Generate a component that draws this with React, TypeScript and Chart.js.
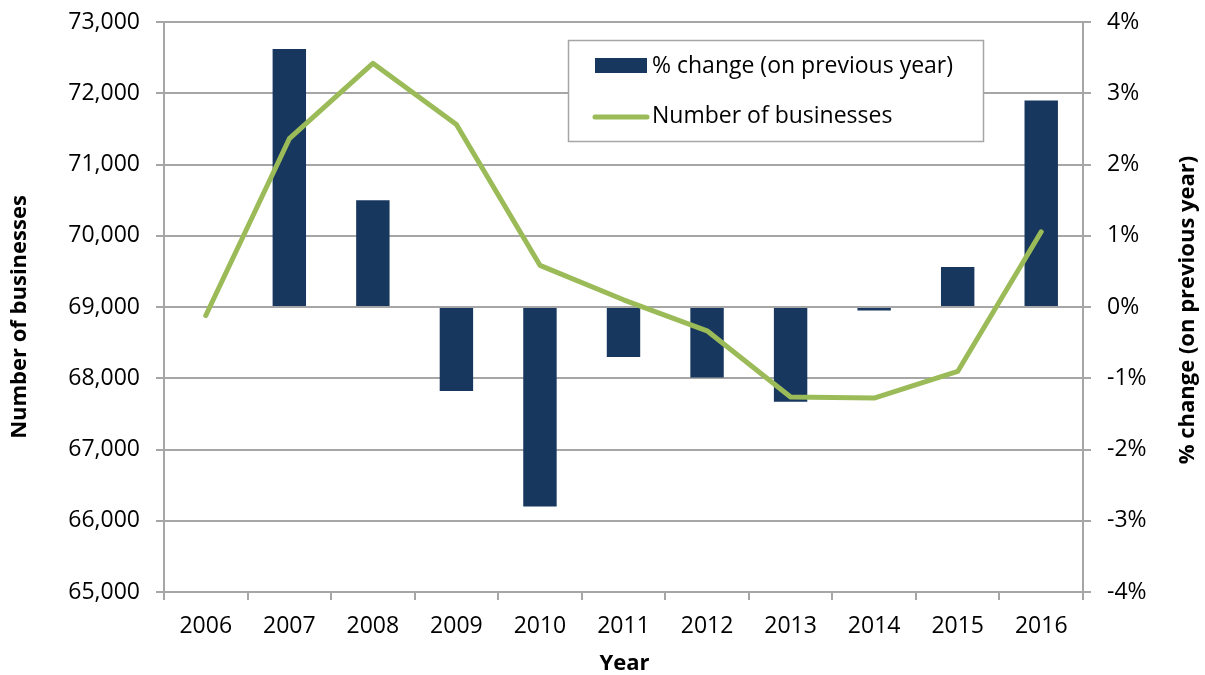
import { useEffect, useRef } from 'react';
import { Chart, registerables } from 'chart.js';

Chart.register(...registerables);

const years = ['2006', '2007', '2008', '2009', '2010', '2011', '2012', '2013', '2014', '2015', '2016'];
const businesses = [68880, 71362, 72420, 71562, 69585, 69101, 68666, 67738, 67722, 68095, 70055];
const pctChange = [null, 3.62, 1.5, -1.18, -2.8, -0.7, -0.99, -1.33, -0.05, 0.56, 2.9];
const leftRange = [65000, 73000];
const leftStep = 1000;
const rightRange = [-4, 4];
const rightStep = 1;
const barLabel = '% change (on previous year)';
const lineLabel = 'Number of businesses';
const xTitle = 'Year';
const leftTitle = 'Number of businesses';
const rightTitle = '% change (on previous year)';

const BAR_COLOR = '#17375E';
const LINE_COLOR = '#9BBB59';
const GRID = '#A6A6A6';
const FONT = "'Open Sans', sans-serif";

const overlayPlugin = {
  id: 'overlay',
  afterDraw(chart: any) {
    const ctx = chart.ctx as CanvasRenderingContext2D;
    const area = chart.chartArea;
    ctx.save();
    // Axis titles
    ctx.fillStyle = '#000';
    ctx.font = `bold 22px ${FONT}`;
    ctx.textAlign = 'center';
    ctx.textBaseline = 'middle';
    ctx.fillText(xTitle, (area.left + area.right) / 2 + 1, 664);

    ctx.save();
    ctx.translate(20, 317);
    ctx.rotate(-Math.PI / 2);
    ctx.fillText(leftTitle, 0, 0);
    ctx.restore();

    ctx.save();
    ctx.translate(1188, 310);
    ctx.rotate(-Math.PI / 2);
    ctx.fillText(rightTitle, 0, 0);
    ctx.restore();

    // Legend box
    const bx = 568, by = 40, bw = 415, bh = 101;
    ctx.fillStyle = '#FFFFFF';
    ctx.fillRect(bx, by, bw, bh);
    ctx.strokeStyle = GRID;
    ctx.lineWidth = 1.5;
    ctx.strokeRect(bx + 0.5, by + 0.5, bw, bh);

    ctx.fillStyle = BAR_COLOR;
    ctx.fillRect(595, 58, 52, 15);

    ctx.strokeStyle = LINE_COLOR;
    ctx.lineWidth = 5;
    ctx.lineCap = 'round';
    ctx.beginPath();
    ctx.moveTo(595, 117);
    ctx.lineTo(647, 117);
    ctx.stroke();

    ctx.fillStyle = '#000';
    ctx.font = `23px ${FONT}`;
    ctx.textAlign = 'left';
    ctx.textBaseline = 'middle';
    ctx.fillText(barLabel, 652, 66);
    ctx.fillText(lineLabel, 652, 116);
    ctx.restore();
  },
};

export default function App() {
  const canvasRef = useRef<HTMLCanvasElement | null>(null);

  useEffect(() => {
    if (!canvasRef.current) return;
    const tickFont = { family: FONT, size: 23 };
    const chart = new Chart(canvasRef.current, {
      type: 'bar',
      data: {
        labels: years,
        datasets: [
          {
            type: 'bar',
            label: barLabel,
            data: pctChange,
            yAxisID: 'y1',
            backgroundColor: BAR_COLOR,
            barPercentage: 0.4,
            categoryPercentage: 1,
            order: 2,
          } as any,
          {
            type: 'line',
            label: lineLabel,
            data: businesses,
            yAxisID: 'y',
            borderColor: LINE_COLOR,
            backgroundColor: LINE_COLOR,
            borderWidth: 5,
            pointRadius: 0,
            tension: 0,
            borderCapStyle: 'round',
            borderJoinStyle: 'round',
            order: 1,
          } as any,
        ],
      },
      options: {
        responsive: false,
        animation: false,
        devicePixelRatio: 1,
        layout: { padding: { top: 22, left: 0, right: 0, bottom: 0 } },
        plugins: {
          legend: { display: false },
          tooltip: { enabled: false },
        },
        scales: {
          x: {
            offset: true,
            grid: { drawOnChartArea: false, drawTicks: true, tickLength: 8, color: GRID, lineWidth: 2, offset: true },
            border: { display: true, color: GRID, width: 2 },
            ticks: { font: tickFont, color: '#000', padding: 13, maxRotation: 0, autoSkip: false },
            afterFit: (s: any) => { s.height = 83; s.paddingLeft = 0; s.paddingRight = 0; },
          },
          y: {
            position: 'left',
            min: leftRange[0],
            max: leftRange[1],
            ticks: {
              stepSize: leftStep,
              font: tickFont,
              color: '#000',
              padding: 16,
              callback: (v: any) => Number(v).toLocaleString('en-US'),
            },
            grid: { color: GRID, lineWidth: 2, tickLength: 8 },
            border: { display: true, color: GRID, width: 2 },
            afterFit: (s: any) => { s.width = 164; s.paddingTop = 0; s.paddingBottom = 0; },
          },
          y1: {
            position: 'right',
            min: rightRange[0],
            max: rightRange[1],
            ticks: {
              stepSize: rightStep,
              font: tickFont,
              color: '#000',
              padding: 16,
              callback: (v: any) => `${v}%`,
            },
            grid: { drawOnChartArea: false, color: GRID, lineWidth: 2, tickLength: 8 },
            border: { display: true, color: GRID, width: 2 },
            afterFit: (s: any) => { s.width = 122; s.paddingTop = 0; s.paddingBottom = 0; },
          },
        },
      } as any,
      plugins: [overlayPlugin],
    });
    return () => chart.destroy();
  }, []);

  return (
    <div style={{ position: 'fixed', left: 0, top: 0, width: 1205, height: 675, background: '#fff' }}>
      <canvas ref={canvasRef} width={1205} height={675} style={{ display: 'block' }} />
    </div>
  );
}
